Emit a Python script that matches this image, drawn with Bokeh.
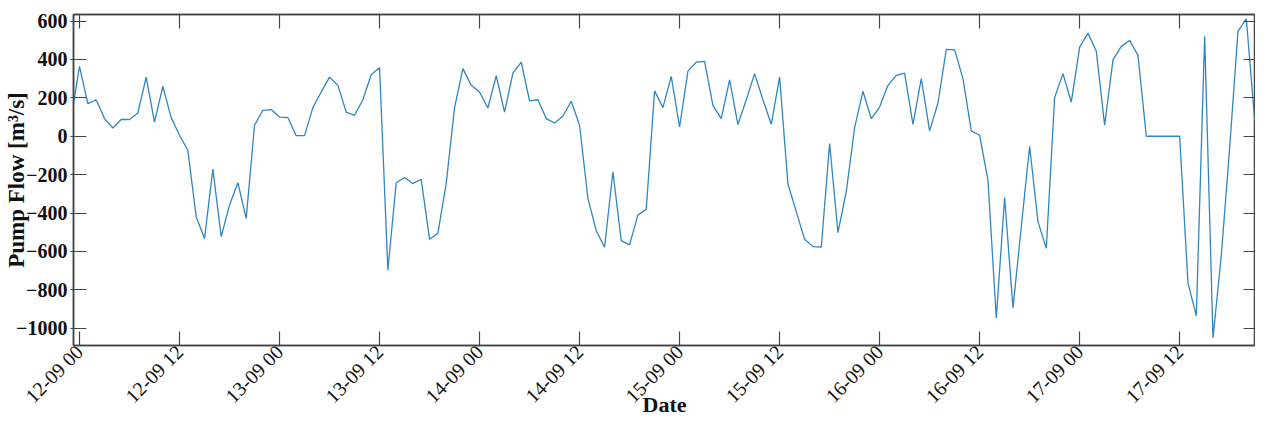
import math
from bokeh.plotting import figure
from bokeh.models import LinearAxis, FixedTicker, Range1d, CustomLabelingPolicy
from bokeh.embed import file_html
from bokeh.resources import INLINE

# hourly samples, hour 0 = 12-09 00
hours = list(range(-1, 144))
flow = [
    95, 364, 170, 190, 92, 43, 87, 87, 121, 308, 74, 260, 97, 5, -73, -419,
    -533, -171, -523, -359, -242, -428, 57, 135, 139, 100, 97, 3, 3, 149, 230,
    308, 265, 126, 109, 190, 320, 357, -696, -242, -215, -246, -225, -537, -506,
    -246, 149, 352, 265, 230, 147, 315, 126, 329, 386, 184, 190, 92, 69, 104,
    182, 57, -324, -492, -578, -185, -544, -566, -410, -381, 236, 149, 312, 48,
    339, 386, 390, 161, 92, 294, 61, 190, 326, 190, 62, 308, -249, -393, -537,
    -575, -578, -38, -502, -289, 45, 234, 92, 152, 265, 317, 329, 62, 300, 28,
    173, 452, 450, 300, 28, 5, -229, -947, -319, -895, -471, -52, -445, -584,
    201, 326, 178, 464, 537, 443, 57, 398, 468, 499, 421, 0, 0, 0, 0, 0, -765,
    -935, 520, -1051, -620, -60, 547, 611, 83, 317, 473,
]
tick_hours = [0, 12, 24, 36, 48, 60, 72, 84, 96, 108, 120, 132]
tick_labels = ["12-09 00", "12-09 12", "13-09 00", "13-09 12", "14-09 00",
               "14-09 12", "15-09 00", "15-09 12", "16-09 00", "16-09 12",
               "17-09 00", "17-09 12"]
y_ticks = [-1000, -800, -600, -400, -200, 0, 200, 400, 600]

AX = "#444444"
FONT = "Liberation Serif"
X_END = 141.1

p = figure(width=1255, height=420, output_backend="svg", toolbar_location=None,
           x_range=Range1d(-0.72, X_END), y_range=Range1d(-1090, 634),
           min_border_left=73, min_border_right=0, min_border_top=14,
           min_border_bottom=75)
p.line(hours, flow, line_color="#2f86c0", line_width=1.3)
p.grid.visible = False
p.outline_line_color = AX
p.outline_line_width = 1.5
p.background_fill_color = "white"
p.border_fill_color = "white"

xa = p.xaxis[0]
xa.ticker = FixedTicker(ticks=tick_hours)
xa.major_label_overrides = {h: l for h, l in zip(tick_hours, tick_labels)}
xa.major_label_orientation = math.pi / 4
xa.major_tick_in = 14
xa.major_tick_out = 0
xa.minor_tick_in = 0
xa.minor_tick_out = 0
xa.major_label_standoff = 3
xa.major_label_text_font = FONT
xa.major_label_text_font_size = "20px"
xa.major_label_text_color = "#111111"
xa.axis_label = "Date"
xa.axis_label_text_font = FONT
xa.axis_label_text_font_style = "bold"
xa.axis_label_text_font_size = "22px"
xa.axis_label_text_color = "#111111"
xa.axis_label_standoff = -26
xa.axis_line_color = AX
xa.axis_line_width = 1.5
xa.major_tick_line_color = AX
xa.major_tick_line_width = 1.2

ya = p.yaxis[0]
ya.ticker = FixedTicker(ticks=y_ticks)
ya.major_tick_in = 13
ya.major_tick_out = 3
ya.minor_tick_in = 0
ya.minor_tick_out = 0
ya.major_label_standoff = 3
ya.major_label_text_font = FONT
ya.major_label_text_font_style = "bold"
ya.major_label_text_font_size = "20px"
ya.major_label_text_color = "#111111"
ya.axis_label = "Pump Flow [m³/s]"
ya.axis_label_text_font = FONT
ya.axis_label_text_font_style = "bold"
ya.axis_label_text_font_size = "23px"
ya.axis_label_text_color = "#111111"
ya.axis_label_standoff = -16
ya.axis_line_color = AX
ya.axis_line_width = 1.5
ya.major_tick_line_color = AX
ya.major_tick_line_width = 1.2

top = LinearAxis(ticker=FixedTicker(ticks=tick_hours),
                 major_label_policy=CustomLabelingPolicy(code="return []"),
                 major_label_text_font_size="1px", major_label_standoff=0,
                 major_tick_in=14, major_tick_out=0,
                 minor_tick_in=0, minor_tick_out=0, axis_line_color=AX,
                 axis_line_width=1.5, major_tick_line_color=AX, major_tick_line_width=1.2)
p.add_layout(top, "above")
right = LinearAxis(ticker=FixedTicker(ticks=y_ticks),
                   major_label_policy=CustomLabelingPolicy(code="return []"),
                   major_label_text_font_size="1px", major_label_standoff=0,
                   major_tick_in=12, major_tick_out=0, fixed_location=X_END,
                   minor_tick_in=0, minor_tick_out=0, axis_line_color=AX,
                   axis_line_width=1.5, major_tick_line_color=AX, major_tick_line_width=1.2)
p.add_layout(right, "right")

open("out.html", "w").write(file_html(p, INLINE))
